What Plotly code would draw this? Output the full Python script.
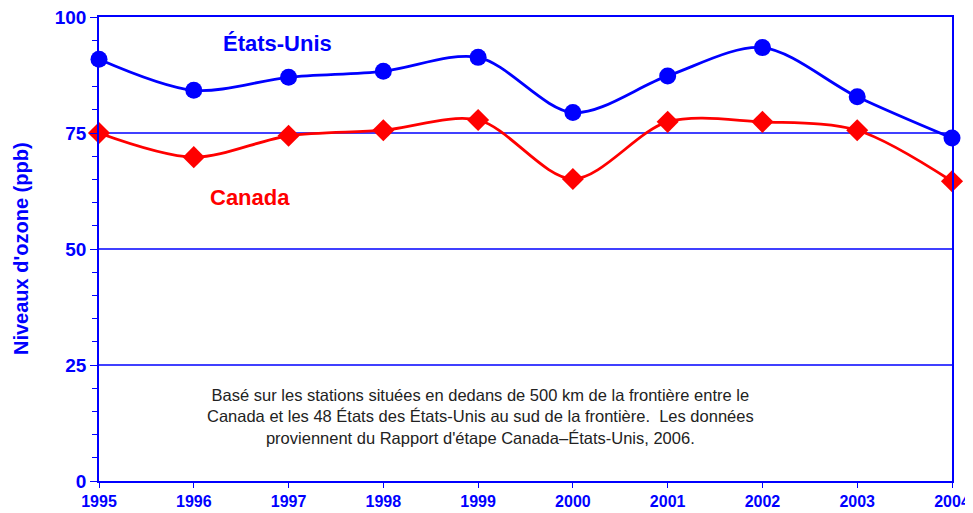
import plotly.graph_objects as go

years = [1995, 1996, 1997, 1998, 1999, 2000, 2001, 2002, 2003, 2004]
us_values = [90.9, 84.2, 87.0, 88.3, 91.3, 79.4, 87.3, 93.4, 82.8, 73.9]
canada_values = [75.0, 69.8, 74.4, 75.6, 77.8, 65.1, 77.4, 77.4, 75.6, 64.6]
y_ticks = [0, 25, 50, 75, 100]

BLUE = "#0000FF"
RED = "#FF0000"
FONT = "Liberation Sans, Arial, sans-serif"

fig = go.Figure()

# horizontal reference lines at the inner y tick values
for v in y_ticks[1:-1]:
    fig.add_hline(y=v, line=dict(color=BLUE, width=1.3), layer="below")

fig.add_trace(go.Scatter(
    x=years, y=canada_values, mode="lines+markers",
    line=dict(color=RED, width=2.8, shape="spline", smoothing=0.9),
    marker=dict(symbol="diamond", size=17, color=RED),
    cliponaxis=False, showlegend=False, name="Canada"))
fig.add_trace(go.Scatter(
    x=years, y=us_values, mode="lines+markers",
    line=dict(color=BLUE, width=2.8, shape="spline", smoothing=0.9),
    marker=dict(symbol="circle", size=17, color=BLUE),
    cliponaxis=False, showlegend=False, name="États-Unis"))

# page body has an 8px margin: size and margins compensate for it
fig.update_layout(
    template="none",
    width=965, height=505,
    margin=dict(l=91, r=21, t=9, b=32, autoexpand=False),
    paper_bgcolor="white", plot_bgcolor="white",
    font=dict(family=FONT, color=BLUE),
    xaxis=dict(
        range=[1995, 2004], tickmode="array", tickvals=years,
        ticktext=["<b>%d</b>" % y for y in years],
        showgrid=False, zeroline=False, automargin=False,
        ticklabeloverflow="allow",
        showline=True, linecolor=BLUE, linewidth=1.5, mirror=True,
        ticks="outside", ticklen=5, tickcolor=BLUE, tickwidth=1.2,
        tickfont=dict(family=FONT, size=16, color=BLUE),
    ),
    yaxis=dict(
        range=[0, 100], tickmode="array", tickvals=y_ticks,
        ticktext=["<b>%d</b>" % v for v in y_ticks],
        showgrid=False,
        zeroline=False, automargin=False,
        ticklabeloverflow="allow",
        showline=True, linecolor=BLUE, linewidth=1.5, mirror=True,
        ticks="outside", ticklen=7, tickcolor=BLUE, tickwidth=1.2,
        minor=dict(dtick=5, ticks="outside", ticklen=5, tickcolor=BLUE,
                   tickwidth=1.2, showgrid=False),
        tickfont=dict(family=FONT, size=19, color=BLUE),
    ),
)

fig.add_annotation(xref="paper", yref="paper", x=0, y=0.5, xshift=-78,
                   xanchor="center", yanchor="middle", textangle=-90,
                   text="<b>Niveaux d'ozone (ppb)</b>", showarrow=False,
                   font=dict(family=FONT, size=20, color=BLUE))
fig.add_annotation(x=1996.88, y=94.2, text="<b>États-Unis</b>", showarrow=False,
                   font=dict(family=FONT, size=22, color=BLUE))
fig.add_annotation(x=1996.59, y=61.1, text="<b>Canada</b>", showarrow=False,
                   font=dict(family=FONT, size=22, color=RED))
fig.add_annotation(
    x=1999.02, y=14.0,
    text=("Basé sur les stations situées en dedans de 500 km de la frontière entre le<br>"
          "Canada et les 48 États des États-Unis au sud de la frontière.  Les données<br>"
          "proviennent du Rapport d'étape Canada–États-Unis, 2006."),
    showarrow=False, align="center",
    font=dict(family=FONT, size=16.5, color="#222222"))

fig.write_html("out.html")
